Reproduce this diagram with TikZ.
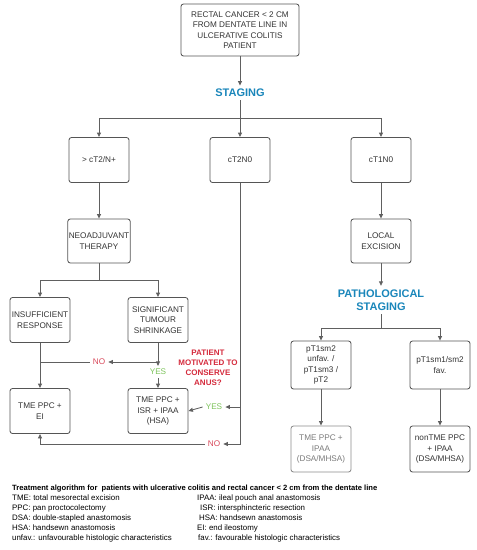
\documentclass[tikz,border=0pt]{standalone}
\usepackage{fontspec}
\setmainfont{Liberation Sans}
\usepackage{xcolor}
\usepackage{tikz}
\usetikzlibrary{positioning,arrows.meta}
\definecolor{boxgrey}{HTML}{555555}
\definecolor{txtgrey}{HTML}{333333}
\definecolor{linegrey}{HTML}{606060}
\definecolor{stageblue}{HTML}{1A86BA}
\definecolor{askred}{HTML}{D42A3C}
\definecolor{nored}{HTML}{D8485A}
\definecolor{yesgreen}{HTML}{7CC35A}
\definecolor{paleline}{HTML}{8C8C8C}
\definecolor{paletxt}{HTML}{7A7A7A}

\begin{document}
\begin{tikzpicture}[x=1pt,y=-1pt,
  box/.style={draw=boxgrey, line width=0.85pt, rounded corners=2.5pt, minimum width=60pt,
    minimum height=45pt, inner sep=1pt, align=center, text=txtgrey,
    font=\fontsize{8.2}{10.5}\selectfont},
  arr/.style={draw=linegrey, line width=0.85pt, -{Triangle[length=4.5pt,width=4pt]}},
  ln/.style={draw=linegrey, line width=0.85pt},
  stagetxt/.style={text=stageblue, align=center, font=\fontsize{11}{13.5}\selectfont\bfseries},
  yestxt/.style={text=yesgreen, inner sep=3pt, font=\fontsize{8.2}{10}\selectfont},
  notxt/.style={text=nored, inner sep=3pt, font=\fontsize{8.2}{10}\selectfont},
  legtxt/.style={anchor=west, inner sep=0pt, text=black, font=\fontsize{7.9}{10}\selectfont}]
\useasboundingbox (0,0) rectangle (477,550);

% Boxes
\node[box, minimum width=118pt, minimum height=52pt] (patient) at (240,30)
  {RECTAL CANCER < 2 CM\\FROM DENTATE LINE IN\\ULCERATIVE COLITIS\\PATIENT};
\node[stagetxt] (staging) at (240,93) {STAGING};
\node[box] (ct3) at (99,160) {> cT2/N+};
\node[box] (ct2) at (240,160) {cT2N0};
\node[box] (ct1) at (381,160) {cT1N0};
\node[box, minimum height=44pt] (neo) at (99,241) {NEOADJUVANT\\THERAPY};
\node[box, minimum height=44pt] (excision) at (381,241) {LOCAL\\EXCISION};
\node[stagetxt] (pathstaging) at (381,300) {PATHOLOGICAL\\STAGING};
\node[box] (insuff) at (40,320) {INSUFFICIENT\\RESPONSE};
\node[box] (shrink) at (158,320) {SIGNIFICANT\\TUMOUR\\SHRINKAGE};
\node[box] (tmeei) at (40,411) {TME PPC +\\EI};
\node[box] (tmeisr) at (158,411) {TME PPC +\\ISR + IPAA\\(HSA)};
\node[box, minimum height=48pt] (unfav) at (321,365) {pT1sm2\\unfav. /\\pT1sm3 /\\pT2};
\node[box, minimum height=48pt] (fav) at (440,365) {pT1sm1/sm2\\fav.};
\node[box, draw=paleline, text=paletxt, minimum height=46pt] (tmeipaa) at (321,449) {TME PPC +\\IPAA\\(DSA/MHSA)};
\node[box, minimum height=46pt] (nontme) at (440,449) {nonTME PPC\\+ IPAA\\(DSA/MHSA)};

% Question and answers
\node[text=askred, align=center, font=\fontsize{8}{10}\selectfont\bfseries] (motivated) at (208,368)
  {PATIENT\\MOTIVATED TO\\CONSERVE\\ANUS?};
\node[notxt] (no1) at (99,362) {NO};
\node[yestxt] (yes1) at (158,372) {YES};
\node[yestxt] (yes2) at (214,407) {YES};
\node[notxt] (no2) at (214,444) {NO};

% Connectors
\draw[arr] (patient) -- (staging);
\draw[arr] (staging) -- (ct2);
\draw[arr] (staging.south) -- (240,118) -| (ct3);
\draw[arr] (240,118) -| (ct1);
\draw[arr] (ct3) -- (neo);
\draw[arr] (neo.south) -- (99,280) -| (insuff);
\draw[arr] (99,280) -| (shrink);
\draw[arr] (ct1) -- (excision);
\draw[arr] (excision) -- (pathstaging);
\draw[arr] (pathstaging.south) -- (381,328) -| (unfav);
\draw[arr] (381,328) -| (fav);
\draw[arr] (unfav) -- (tmeipaa);
\draw[arr] (fav) -- (nontme);
\draw[arr] (insuff) -- (tmeei);
\draw[arr] (shrink) -- (yes1);
\draw[arr] (yes1) -- (tmeisr);
\draw[arr] (shrink.south |- no1.east) -- (no1.east);
\draw[ln] (no1.west) -- (insuff.south |- no1.west);
\draw[arr] (ct2.south) |- (no2.east);
\draw[arr] (ct2.south |- yes2.east) -- (yes2.east);
\draw[arr] (yes2.west) -- (tmeisr.east);
\draw[arr] (no2.west) -| (tmeei.south);

% Legend
\node[legtxt, font=\fontsize{7.6}{10}\selectfont\bfseries] (legtitle) at (12,489)
  {Treatment algorithm for\ \ patients with ulcerative colitis and rectal cancer < 2 cm from the dentate line};
\node[legtxt] (tme) at (12,498) {TME: total mesorectal excision};
\node[legtxt] (ppc) at (12,508) {PPC: pan proctocolectomy};
\node[legtxt] (dsa) at (12,518) {DSA: double-stapled anastomosis};
\node[legtxt] (hsa) at (12,528) {HSA: handsewn anastomosis};
\node[legtxt] (unfavtxt) at (12,538) {unfav.: unfavourable histologic characteristics};
\node[legtxt] (ipaa) at (197,498) {IPAA: ileal pouch anal anastomosis};
\node[legtxt] (isr) at (200,508) {ISR: intersphincteric resection};
\node[legtxt] (hsa2) at (199,518) {HSA: handsewn anastomosis};
\node[legtxt] (ei) at (197,528) {EI: end ileostomy};
\node[legtxt] (favtxt) at (198,538) {fav.: favourable histologic characteristics};
\end{tikzpicture}
\end{document}
